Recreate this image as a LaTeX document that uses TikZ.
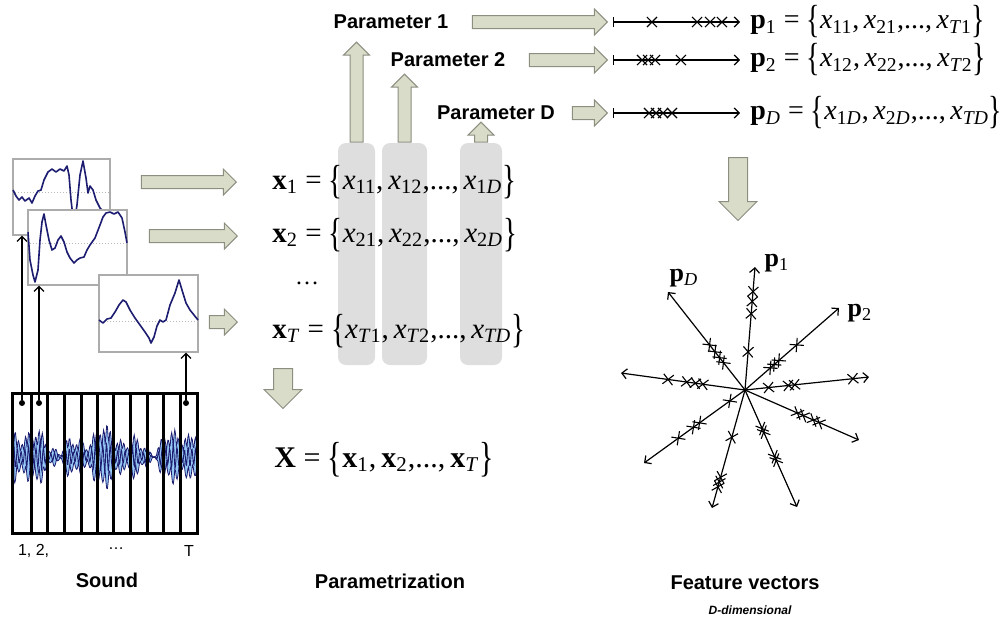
\documentclass[tikz,border=0pt]{standalone}
\usepackage{fontspec}
\setmainfont{Liberation Serif}
\setsansfont{Liberation Sans}
\usepackage{graphicx}
\usetikzlibrary{
    arrows.meta,
    positioning,
    calc,
    shapes.arrows,
    shapes.misc
}

\definecolor{arrowfill}{RGB}{216,220,200}
\definecolor{arrowedge}{RGB}{140,142,128}
\definecolor{columnfill}{RGB}{222,222,222}
\definecolor{wavenavy}{RGB}{28,28,112}
\definecolor{wavefill}{RGB}{150,200,245}

% set braces, elements and vectors in the text font
\newcommand\lset{\raisebox{-0.15em}{\scalebox{1}[1.4]{\{}}}
\newcommand\rset{\raisebox{-0.15em}{\scalebox{1}[1.4]{\}}}}
\newcommand\elem[1]{\textit{x}\textsubscript{#1}}
\newcommand\bvec[2]{\textbf{#1}\textsubscript{#2}}
\newcommand\dts{...}

\tikzset{
    % --- Hollow block arrow between stages ---
    flow arrow/.style = {
        single arrow, draw=arrowedge, fill=arrowfill, line width=0.5pt,
        inner xsep=0pt, inner ysep=3pt,
        single arrow head extend=3.25pt,
        single arrow head indent=0pt
    },
    % --- Wider block arrow ---
    wide flow arrow/.style = {
        flow arrow, inner ysep=4.5pt, single arrow head extend=4.75pt
    },
    % --- Grey band that groups one parameter ---
    column/.style = {
        rectangle, fill=columnfill, rounded corners=4pt,
        inner sep=0pt, minimum height=111pt
    },
    % --- Equation text ---
    eq/.style = {
        font=\fontsize{14.5}{17}\selectfont,
        inner sep=1pt, anchor=west
    },
    % --- Bold sans labels ---
    param/.style = {
        font=\sffamily\bfseries\fontsize{10}{12}\selectfont
    },
    stage/.style = {
        font=\sffamily\bfseries\fontsize{10}{12}\selectfont
    },
    % --- Small waveform window ---
    inset/.style = {
        rectangle, draw=gray!65, fill=white, line width=0.6pt, inner sep=0pt
    },
    wave line/.style = {
        wavenavy, line width=0.8pt, line join=round
    },
    midline/.style = {
        densely dotted, gray!55, line width=0.5pt
    },
    % --- Frame separator in the sound strip ---
    divider/.style = {
        line width=1.5pt
    },
    % --- Frame tap dot ---
    dot/.style = {
        circle, fill=black, inner sep=0pt, minimum size=3pt
    },
    tap arrow/.style = {
        -{Straight Barb[length=2.5pt,width=5pt]}, line width=0.6pt
    },
    % --- Parameter value axis ---
    value axis/.style = {
        {Bar[width=5pt]}-{Straight Barb[length=2.5pt,width=5pt]},
        line width=0.6pt, shorten <=2.5pt, shorten >=4pt
    },
    star axis/.style = {
        -{Straight Barb[length=2.5pt,width=5pt]}, line width=0.6pt
    },
    % --- Cross marking one value ---
    xmark/.style = {
        cross out, draw, arrows=-, shorten <=0pt, shorten >=0pt,
        line width=0.55pt, sloped,
        minimum width=4.5pt, minimum height=4.5pt, inner sep=0pt
    }
}

\begin{document}
\begin{tikzpicture}[x=0.5pt, y=-0.5pt]

\useasboundingbox (0,0) rectangle (1005,618);

% ---------------------------------------------------------
% 1. Sound strip split into frames
% ---------------------------------------------------------
\node[rectangle, minimum width=92pt, minimum height=69.5pt, inner sep=0pt]
    (soundBox) at (105,463.5) {};

\begin{scope}
    \clip (soundBox.south west) rectangle (soundBox.north east);
    \tikzset{declare function={wamp(\t)=16+7*sin(4.3*\t)+6*sin(11*\t+30)+5*sin(27*\t+60);}}
    \filldraw[fill=wavefill, draw=wavenavy, line width=0.4pt]
        plot[domain=14:197, samples=240] (\x,{457-wamp(\x)*(0.3+0.7*abs(sin(53*\x)))})
        -- plot[domain=197:14, samples=240] (\x,{457+wamp(\x)*(0.3+0.7*abs(sin(41*\x+20)))})
        -- cycle;
    \draw[wavenavy, line width=0.45pt]
        plot[domain=14:197, samples=300] (\x,{457+0.45*wamp(\x)*sin(97*(\x-100))});
\end{scope}

\draw[divider] (soundBox.south west) rectangle (soundBox.north east);
\foreach \dx in {31,47,64,81,97,113,130,147,163,180}
    \draw[divider] (\dx,394) -- (\dx,533);

\node[dot] (tapOne) at (22,403) {};
\node[dot] (tapTwo) at (39,403) {};
\node[dot] (tapT)   at (186,403) {};

\node[font=\sffamily\fontsize{8}{10}\selectfont, anchor=west] (frameOne) at (11,551) {1,\ 2,};
\node[font=\sffamily\fontsize{8}{10}\selectfont] (frameDots) at (116,549) {\ldots};
\node[font=\sffamily\fontsize{8}{10}\selectfont] (frameT) at (189,551) {T};

% ---------------------------------------------------------
% 2. Frame windows
% ---------------------------------------------------------
\node[inset, minimum width=48.5pt, minimum height=38pt] (waveA) at (61.5,197) {};
\draw[midline] (waveA.west |- 0,192) -- (waveA.east |- 0,192);
\begin{scope}
    \clip (waveA.south west) rectangle (waveA.north east);
    \draw[wave line] plot coordinates {
        (13,190) (16,196) (19,200) (22,197) (25,201) (29,198) (32,203) (35,196)
        (38,191) (41,190) (44,180) (48,172) (52,169) (56,172) (60,169) (64,171)
        (67,166) (69,175) (71,200) (74,225) (77,205) (80,175) (83,161) (86,178)
        (88,193) (90,186) (93,190) (96,200) (100,208) (104,212) (110,210)};
\end{scope}

\node[inset, minimum width=49.5pt, minimum height=37.5pt] (waveB) at (77.5,247.5) {};
\draw[midline] (waveB.west |- 0,243) -- (waveB.east |- 0,243);
\begin{scope}
    \clip (waveB.south west) rectangle (waveB.north east);
    \draw[wave line] plot coordinates {
        (28,232) (30,260) (33,275) (35,282) (38,270) (40,240) (42,222) (44,214)
        (46,225) (49,240) (52,250) (55,248) (58,240) (61,236) (64,242) (67,252)
        (70,258) (74,263) (77,260) (80,258) (84,257) (87,250) (90,245) (95,238)
        (100,225) (103,217) (106,213) (110,212) (114,214) (118,212) (122,218)
        (125,232) (127,243)};
\end{scope}

\node[inset, minimum width=49.5pt, minimum height=38.5pt] (waveC) at (148.5,313.5) {};
\draw[midline] (waveC.west |- 0,321) -- (waveC.east |- 0,321);
\begin{scope}
    \clip (waveC.south west) rectangle (waveC.north east);
    \draw[wave line] plot coordinates {
        (99,320) (103,323) (107,319) (111,318) (115,312) (119,305) (123,300)
        (126,302) (130,310) (135,318) (140,325) (145,332) (149,338) (151,343)
        (154,337) (157,326) (160,320) (163,322) (166,320) (170,305) (175,293)
        (179,280) (182,290) (186,303) (190,310) (194,315) (198,320)};
\end{scope}

\draw[tap arrow] (tapOne) -- (tapOne |- waveA.south);
\draw[tap arrow] (tapTwo) -- (tapTwo |- waveB.south);
\draw[tap arrow] (tapT)   -- (tapT |- waveC.south);

% ---------------------------------------------------------
% 3. Frame vectors and parameter columns
% ---------------------------------------------------------
\node[column, minimum width=18.5pt] (colOne) at (356.5,254) {};
\node[column, minimum width=22.5pt] (colTwo) at (404.5,254) {};
\node[column, minimum width=21pt]   (colD)   at (481,254) {};

\node[flow arrow, minimum height=47.5pt, anchor=tip] (toEqOne) at (237,182) {};
\node[flow arrow, minimum height=44pt,   anchor=tip] (toEqTwo) at (238,236) {};
\node[flow arrow, minimum height=14pt,   anchor=tip] (toEqT)   at (238,322) {};

\node[eq] (eqOne) at (270,182)
    {\bvec{x}{1} = \lset\elem{11},\,\elem{12},\dts,\,\elem{1\textit{D}}\rset};
\node[eq] (eqTwo) at (270,235)
    {\bvec{x}{2} = \lset\elem{21},\,\elem{22},\dts,\,\elem{2\textit{D}}\rset};
\node[font=\fontsize{12}{14}\selectfont] (eqDots) at (307,283) {\ldots};
\node[eq] (eqT) at (270,331)
    {\bvec{x}{\textit{T}} = \lset\elem{\textit{T}1},\,\elem{\textit{T}2},\dts,\,\elem{\textit{TD}}\rset};

\node[wide flow arrow, rotate=-90, minimum height=20pt, anchor=tail] (toAll) at (283,368) {};
\node[eq, font=\fontsize{15}{18}\selectfont] (eqAll) at (272,460)
    {\textbf{X} = \lset\bvec{x}{1},\,\bvec{x}{2},\dts,\,\bvec{x}{\textit{T}}\rset};

% ---------------------------------------------------------
% 4. Parameters pulled out of the columns
% ---------------------------------------------------------
\node[flow arrow, rotate=90, minimum height=50pt, anchor=tail] (upOne) at (colOne.north) {};
\node[flow arrow, rotate=90, minimum height=34pt, anchor=tail] (upTwo) at (colTwo.north) {};
\node[flow arrow, rotate=90, minimum height=10pt, anchor=tail] (upD)   at (colD.north) {};

\node[param] (parOne) at (391,22)  {Parameter 1};
\node[param] (parTwo) at (448,60)  {Parameter 2};
\node[param] (parD)   at (496,113) {Parameter D};

\node[flow arrow, minimum height=67.5pt, anchor=tip] (arrOne) at (608,22)  {};
\node[flow arrow, minimum height=39pt,   anchor=tip] (arrTwo) at (608,60)  {};
\node[flow arrow, minimum height=17.5pt, anchor=tip] (arrD)   at (608,113) {};

\node[eq, font=\fontsize{14}{17}\selectfont] (pOne) at (748,22)
    {\bvec{p}{1} = \lset\elem{11},\,\elem{21},\dts,\,\elem{\textit{T}1}\rset};
\node[eq, font=\fontsize{14}{17}\selectfont] (pTwo) at (748,60)
    {\bvec{p}{2} = \lset\elem{12},\,\elem{22},\dts,\,\elem{\textit{T}2}\rset};
\node[eq, font=\fontsize{14}{17}\selectfont] (pD) at (748,113)
    {\bvec{p}{\textit{D}} = \lset\elem{1\textit{D}},\,\elem{2\textit{D}},\dts,\,\elem{\textit{TD}}\rset};

\draw[value axis] (arrOne.tip) -- (pOne.west)
    node[xmark, pos=.314] (vOne-1) {} node[xmark, pos=.636] (vOne-2) {}
    node[xmark, pos=.729] (vOne-3) {} node[xmark, pos=.814] (vOne-4) {};
\draw[value axis] (arrTwo.tip) -- (pTwo.west)
    node[xmark, pos=.243] (vTwo-1) {} node[xmark, pos=.286] (vTwo-2) {}
    node[xmark, pos=.336] (vTwo-3) {} node[xmark, pos=.521] (vTwo-4) {};
\draw[value axis] (arrD.tip) -- (pD.west)
    node[xmark, pos=.293] (vD-1) {} node[xmark, pos=.343] (vD-2) {}
    node[xmark, pos=.393] (vD-3) {} node[xmark, pos=.457] (vD-4) {};

% ---------------------------------------------------------
% 5. Feature space
% ---------------------------------------------------------
\node[wide flow arrow, rotate=-90, minimum height=31.5pt, anchor=tail] (toSpace) at (738,157) {};

\coordinate (hub) at (745,390);
\foreach \ex/\ey/\ta/\tb/\tc/\td [count=\k] in {
        755/267/.31/.62/.72/.80,
        839/308/.27/.31/.36/.55,
        668/292/.28/.33/.39/.46,
        869/377/.19/.35/.40/.87,
        621/373/.34/.40/.47/.62,
        859/440/.46/.51/.60/.65,
        644/463/.15/.45/.51/.66,
        712/508/.40/.74/.78/.82,
        797/507/.33/.36/.57/.60}
{
    \draw[star axis] (hub) -- (\ex,\ey)
        node[xmark, pos=\ta] (s\k-1) {} node[xmark, pos=\tb] (s\k-2) {}
        node[xmark, pos=\tc] (s\k-3) {} node[xmark, pos=\td] (s\k-4) {};
}

\node[font=\fontsize{13}{15}\selectfont] (labOne) at (777,263) {\bvec{p}{1}};
\node[font=\fontsize{13}{15}\selectfont] (labTwo) at (860,313) {\bvec{p}{2}};
\node[font=\fontsize{13}{15}\selectfont] (labD)   at (684,278) {\bvec{p}{\textit{D}}};

% ---------------------------------------------------------
% 6. Stage captions
% ---------------------------------------------------------
\node[stage] (capSound) at (107,580) {Sound};
\node[stage] (capParam) at (390,581) {Parametrization};
\node[stage] (capFeat)  at (745,583) {Feature vectors};
\node[font=\sffamily\bfseries\itshape\fontsize{6}{7}\selectfont] (capDim) at (750,610) {D-dimensional};

\end{tikzpicture}
\end{document}
